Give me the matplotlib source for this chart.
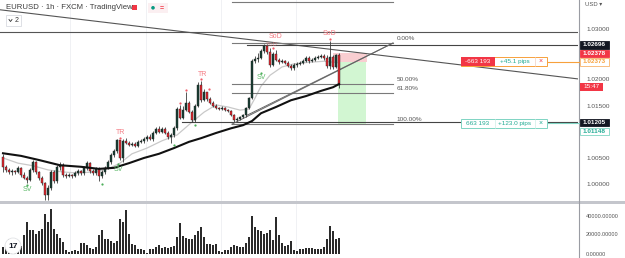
import matplotlib.pyplot as plt
from matplotlib.patches import Rectangle, Circle

plt.rcParams['font.family'] = ['Liberation Sans', 'DejaVu Sans']

# ==========================================
# Datos: velas EURUSD 1h (FXCM)
# ==========================================
opens = [1.0054, 1.0035, 1.0029, 1.0025, 1.0027, 1.0025, 1.0033, 1.0019, 1.0013, 1.0010,
         1.0029, 1.0044, 1.0025, 1.0013, 1.0004, 0.9981, 0.9994, 1.0025, 1.0008, 1.0035,
         1.0038, 1.0019, 1.0017, 1.0019, 1.0017, 1.0023, 1.0027, 1.0023, 1.0033, 1.0042,
         1.0027, 1.0023, 1.0031, 1.0017, 1.0025, 1.0033, 1.0044, 1.0058, 1.0065, 1.0087,
         1.0052, 1.0085, 1.0081, 1.0077, 1.0079, 1.0075, 1.0083, 1.0085, 1.0088, 1.0092,
         1.0088, 1.0100, 1.0108, 1.0102, 1.0108, 1.0100, 1.0092, 1.0096, 1.0109, 1.0146,
         1.0129, 1.0144, 1.0158, 1.0140, 1.0125, 1.0152, 1.0192, 1.0163, 1.0179, 1.0165,
         1.0158, 1.0152, 1.0148, 1.0146, 1.0148, 1.0144, 1.0142, 1.0134, 1.0125, 1.0127,
         1.0131, 1.0134, 1.0148, 1.0167, 1.0238, 1.0242, 1.0244, 1.0258, 1.0267, 1.0256,
         1.0231, 1.0252, 1.0240, 1.0236, 1.0238, 1.0235, 1.0229, 1.0225, 1.0231, 1.0233,
         1.0235, 1.0238, 1.0244, 1.0238, 1.0240, 1.0244, 1.0246, 1.0248, 1.0244, 1.0229,
         1.0246, 1.0227, 1.0250]
highs = [1.0060, 1.0038, 1.0033, 1.0031, 1.0029, 1.0037, 1.0035, 1.0025, 1.0017, 1.0033,
         1.0048, 1.0046, 1.0027, 1.0017, 1.0006, 1.0000, 1.0029, 1.0029, 1.0038, 1.0044,
         1.0042, 1.0023, 1.0023, 1.0021, 1.0027, 1.0031, 1.0029, 1.0037, 1.0046, 1.0044,
         1.0031, 1.0035, 1.0035, 1.0029, 1.0037, 1.0048, 1.0062, 1.0069, 1.0088, 1.0087,
         1.0088, 1.0090, 1.0085, 1.0083, 1.0083, 1.0087, 1.0088, 1.0092, 1.0096, 1.0098,
         1.0104, 1.0111, 1.0113, 1.0111, 1.0111, 1.0104, 1.0100, 1.0113, 1.0150, 1.0154,
         1.0152, 1.0179, 1.0161, 1.0144, 1.0156, 1.0198, 1.0200, 1.0184, 1.0179, 1.0169,
         1.0161, 1.0156, 1.0150, 1.0152, 1.0150, 1.0146, 1.0144, 1.0136, 1.0131, 1.0132,
         1.0136, 1.0150, 1.0169, 1.0242, 1.0248, 1.0254, 1.0261, 1.0271, 1.0271, 1.0263,
         1.0256, 1.0260, 1.0244, 1.0242, 1.0240, 1.0238, 1.0233, 1.0235, 1.0236, 1.0238,
         1.0242, 1.0248, 1.0248, 1.0244, 1.0248, 1.0250, 1.0252, 1.0252, 1.0250, 1.0277,
         1.0250, 1.0252, 1.0254]
lows = [1.0025, 1.0025, 1.0021, 1.0019, 1.0021, 1.0023, 1.0015, 1.0012, 1.0004, 1.0008,
        1.0025, 1.0021, 1.0010, 1.0000, 0.9971, 0.9971, 0.9990, 1.0004, 1.0004, 1.0029,
        1.0015, 1.0013, 1.0015, 1.0013, 1.0015, 1.0019, 1.0019, 1.0019, 1.0029, 1.0023,
        1.0019, 1.0019, 1.0008, 1.0013, 1.0021, 1.0031, 1.0040, 1.0054, 1.0062, 1.0048,
        1.0044, 1.0079, 1.0075, 1.0075, 1.0073, 1.0073, 1.0081, 1.0081, 1.0085, 1.0087,
        1.0085, 1.0098, 1.0100, 1.0100, 1.0098, 1.0088, 1.0081, 1.0092, 1.0106, 1.0127,
        1.0127, 1.0142, 1.0138, 1.0121, 1.0121, 1.0150, 1.0159, 1.0161, 1.0161, 1.0156,
        1.0150, 1.0146, 1.0144, 1.0144, 1.0142, 1.0140, 1.0132, 1.0121, 1.0123, 1.0125,
        1.0129, 1.0131, 1.0146, 1.0165, 1.0235, 1.0236, 1.0242, 1.0254, 1.0252, 1.0227,
        1.0229, 1.0238, 1.0233, 1.0235, 1.0233, 1.0227, 1.0221, 1.0221, 1.0227, 1.0231,
        1.0233, 1.0236, 1.0235, 1.0236, 1.0238, 1.0242, 1.0244, 1.0240, 1.0225, 1.0223,
        1.0223, 1.0225, 1.0186]
closes = [1.0035, 1.0029, 1.0025, 1.0027, 1.0025, 1.0033, 1.0019, 1.0013, 1.0010, 1.0029,
          1.0044, 1.0025, 1.0013, 1.0004, 0.9981, 0.9994, 1.0025, 1.0008, 1.0035, 1.0038,
          1.0019, 1.0017, 1.0019, 1.0017, 1.0023, 1.0027, 1.0023, 1.0033, 1.0042, 1.0027,
          1.0023, 1.0031, 1.0017, 1.0025, 1.0033, 1.0044, 1.0058, 1.0065, 1.0087, 1.0052,
          1.0085, 1.0081, 1.0077, 1.0079, 1.0075, 1.0083, 1.0085, 1.0088, 1.0092, 1.0088,
          1.0100, 1.0108, 1.0102, 1.0108, 1.0100, 1.0092, 1.0096, 1.0109, 1.0146, 1.0129,
          1.0144, 1.0158, 1.0140, 1.0125, 1.0152, 1.0192, 1.0163, 1.0179, 1.0165, 1.0158,
          1.0152, 1.0148, 1.0146, 1.0148, 1.0144, 1.0142, 1.0134, 1.0125, 1.0127, 1.0131,
          1.0134, 1.0148, 1.0167, 1.0238, 1.0242, 1.0244, 1.0258, 1.0267, 1.0256, 1.0231,
          1.0252, 1.0240, 1.0236, 1.0238, 1.0235, 1.0229, 1.0225, 1.0231, 1.0233, 1.0235,
          1.0238, 1.0244, 1.0238, 1.0240, 1.0244, 1.0246, 1.0248, 1.0244, 1.0229, 1.0246,
          1.0227, 1.0250, 1.0192]
volumes = [7400, 9000, 16000, 6000, 8000, 12000, 8000, 19600, 33700, 25000,
           25000, 21400, 24000, 26700, 41800, 33700, 47000, 26700, 20700, 16800,
           12600, 3900, 2100, 2800, 3900, 3200, 11900, 11900, 9100, 6300,
           4900, 7400, 20400, 25300, 16100, 16100, 13300, 12000, 14000, 36500,
           33700, 46000, 21400, 10900, 10000, 5600, 5600, 3900, 1400, 4900,
           5600, 7400, 9100, 6600, 7400, 6600, 7400, 8000, 17900, 33000,
           18600, 16800, 15400, 15400, 20400, 24200, 28400, 17900, 10900, 10900,
           9800, 10900, 2800, 2100, 3900, 4600, 7400, 9100, 8100, 7400,
           7400, 11600, 17900, 40000, 28400, 25000, 23900, 21400, 22100, 25000,
           15000, 39000, 19600, 11600, 8400, 9100, 13300, 3900, 2800, 4900,
           5600, 6300, 6600, 6300, 5000, 4900, 5600, 7400, 16100, 29100,
           24200, 16100, 17200]

# medias moviles (lenta negra, rapida gris)
ma_slow_bars = [0, 6, 12, 19, 26, 32, 37, 42, 47, 52, 57, 62, 66, 71, 76, 80, 83, 86, 91, 96, 101, 106, 110, 112]
ma_slow = [1.0061, 1.0056, 1.0048, 1.0038, 1.0035, 1.0031, 1.0033, 1.0042, 1.0052, 1.0060, 1.0071, 1.0083,
           1.0090, 1.0100, 1.0109, 1.0115, 1.0123, 1.0138, 1.0150, 1.0163, 1.0171, 1.0181, 1.0188, 1.0194]
ma_fast_bars = [0, 5, 10, 15, 20, 25, 30, 35, 39, 43, 48, 53, 58, 63, 67, 71, 75, 79, 82, 84, 86, 89, 93, 97, 102, 107, 112]
ma_fast = [1.0052, 1.0042, 1.0037, 1.0029, 1.0025, 1.0023, 1.0025, 1.0031, 1.0042, 1.0060, 1.0071, 1.0085, 1.0096,
           1.0121, 1.0140, 1.0154, 1.0150, 1.0144, 1.0146, 1.0167, 1.0190, 1.0211, 1.0227, 1.0233, 1.0236, 1.0238, 1.0235]

# marcas de la estrategia
tr_dots = [(39, 1.0091), (59, 1.0158), (61, 1.0183), (66, 1.0204), (68.7, 1.0185), (90, 1.0263), (109, 1.0281)]
sv_dots = [(8, 1.0000), (33, 1.0002), (38.5, 1.0040), (57, 1.0077), (64, 1.0115), (86, 1.0215)]
tr_labels = [(39.3, 1.0100, "TR"), (66.5, 1.0213, "TR")]
sod_labels = [(90.7, 1.0285, "SoD"), (109, 1.0291, "SoD")]
sod_shadow = (89.5, 1.0270, "SoD")
sv_labels = [(8, 0.9991, "SV"), (38.5, 1.0029, "SV"), (86, 1.0206, "SV")]

price_ticks = [1.00000, 1.00500, 1.01500, 1.02000, 1.03000]
vol_ticks = [0, 20000, 40000]

# dibujos
fib_low, fib_high = 1.0117, 1.0273
fib_levels = [-0.5, 0.0, 0.5, 0.618, 1.0]
fib_names = ["", "0.00%", "50.00%", "61.80%", "100.00%"]
fib_start, fib_end = 76.3, 130.0
trend_down = ([-1, 191.7], [1.0337, 1.0204])
trend_up2 = ([81.3, 130.0], [1.0134, 1.0273])
level_top = 1.0294
ray_high, ray_high_start = 1.02696, 81.3
ray_low, ray_low_start = 1.01205, 59.7
entry, stop, target = 1.02373, 1.02539, 1.01148
pos_bars = (110, 121.3)

# ==========================================
# Figura
# ==========================================
W, H = 625, 258
P_TOP, P_BOT = 1.03558, 0.99692
fig = plt.figure(figsize=(W / 100, H / 100), dpi=100)
ax = fig.add_axes([0, 1 - 201 / H, 578 / W, 201 / H])
axv = fig.add_axes([0, 0, 578 / W, 54 / H])
ui = fig.add_axes([0, 0, 1, 1], zorder=10)
ui.set_xlim(0, W)
ui.set_ylim(H, 0)
ui.axis('off')
ui.patch.set_alpha(0)

def py(p):
    return (P_TOP - p) / (P_TOP - P_BOT) * 201

for a in (ax, axv):
    a.set_xlim(-1, 191.67)
    a.axis('off')
    for gx in (22.3, 47.7, 72.7, 97.7):
        a.axvline(gx, color="#f0f1f4", lw=0.7, zorder=0)
ax.set_ylim(P_BOT, P_TOP)
axv.set_ylim(-4200, 52600)

# velas
up_c, dn_c = "#173f33", "#e8262e"
for i in range(len(closes)):
    o, h, l, c = opens[i], highs[i], lows[i], closes[i]
    col = up_c if c >= o else dn_c
    ax.vlines(i, l, h, color="#3a3a3a", lw=0.6, zorder=3)
    ax.bar(i, max(abs(c - o), 0.00006), bottom=min(o, c), width=0.72,
           color=col, edgecolor="#222222", lw=0.3, zorder=4)

ax.plot(ma_fast_bars, ma_fast, color="#c9c9c9", lw=0.9, zorder=2)
ax.plot(ma_slow_bars, ma_slow, color="#111111", lw=1.5, zorder=5)

# volumen
axv.bar(range(len(volumes)), volumes, width=0.55, color="#2b2b2b", zorder=3)

# lineas dibujadas
ax.plot(*trend_down, color="#555555", lw=0.8, zorder=2)
ax.axhline(level_top, color="#555555", lw=0.8, zorder=2)
ax.plot([ray_high_start, 191.7], [ray_high, ray_high], color="#444444", lw=0.8, zorder=2)
ax.plot([ray_low_start, 191.7], [ray_low, ray_low], color="#444444", lw=0.8, zorder=2)
rng = fib_high - fib_low
for lv, name in zip(fib_levels, fib_names):
    p = fib_high - lv * rng
    ax.plot([fib_start, fib_end], [p, p], color="#7a7a7a", lw=0.8, zorder=2)
    if name:
        ax.text(fib_end + 1.3, p + 0.00035, name, fontsize=4.6, color="#555555",
                va="bottom", ha="left")
ax.plot([fib_start, fib_end], [fib_low, fib_high], color="#666666", lw=0.7, zorder=2)
ax.plot(*trend_up2, color="#666666", lw=0.7, zorder=2)

# herramienta de posicion corta
ax.add_patch(Rectangle((pos_bars[0], entry), pos_bars[1] - pos_bars[0], stop - entry,
                       color="#f9c9cc", alpha=0.9, zorder=1, lw=0))
ax.add_patch(Rectangle((pos_bars[0] + 1.7, target), pos_bars[1] - pos_bars[0] - 2, entry - target,
                       color="#cdf5cd", alpha=0.9, zorder=1, lw=0))

# marcas
for b, p in tr_dots:
    ax.plot(b, p, "o", ms=1.6, color="#f05a66", mec="none", zorder=6)
for b, p in sv_dots:
    ax.plot(b, p, "o", ms=1.6, color="#4cae5a", mec="none", zorder=6)
for b, p, t in tr_labels + sod_labels:
    ax.text(b, p, t, fontsize=5, color="#f47c84", ha="center", va="center", zorder=6)
ax.text(sod_shadow[0], sod_shadow[1], sod_shadow[2], fontsize=4.4, color="#f47c84",
        ha="center", va="center", alpha=0.55, zorder=6)
for b, p, t in sv_labels:
    ax.text(b, p, t, fontsize=5, color="#5cb868", ha="center", va="center", zorder=6)

# ==========================================
# Interfaz (escala de precios, etiquetas)
# ==========================================
ui.add_patch(Rectangle((0, 200.5), W, 3, color="#c4c6cc", lw=0))
ui.plot([578.5, 578.5], [0, H], color="#9a9ca3", lw=0.8)

for p in price_ticks:
    yy = py(p) - (1.5 if p == 1.02 else 0)
    ui.text(586, yy, f"{p:.5f}", fontsize=4.6, color="#555", va="center")
ui.text(585, 5, "USD ▾", fontsize=4.2, color="#555", va="center")

def axis_label(yc, txt, fc, tc, ec=None, x1=609):
    ui.add_patch(Rectangle((580, yc - 3.7), x1 - 580, 7.4, fc=fc, ec=ec or fc, lw=0.6, zorder=11))
    ui.text((580 + x1) / 2, yc, txt, fontsize=4.6, color=tc, ha="center", va="center",
            fontweight="bold", zorder=12)

axis_label(py(ray_high), "1.02696", "#131722", "white")
axis_label(53.3, "1.02378", "#f23645", "white")
axis_label(61.9, "1.02373", "white", "#f7a13c", "#f7b36b")
ui.add_patch(Rectangle((580, 83.3), 23, 7.2, fc="#f23645", lw=0, zorder=11))
ui.text(591.5, 86.9, "15:47", fontsize=4.6, color="white", ha="center", va="center", zorder=12)
axis_label(py(ray_low), "1.01205", "#131722", "white")
axis_label(131.3, "1.01148", "white", "#22ab94", "#7fd4c3")

# etiquetas de ordenes
y1 = py(entry)
ui.plot([547, 579], [y1, y1], color="#f7a13c", lw=0.8)
ui.add_patch(Rectangle((461, y1 - 4.5), 86, 9, fc="white", ec="#f7a13c", lw=0.7, zorder=11))
ui.add_patch(Rectangle((461, y1 - 4.5), 34, 9, fc="#f23645", lw=0, zorder=11))
ui.text(478, y1, "-663 193", fontsize=4.6, color="white", ha="center", va="center", zorder=12)
ui.text(515, y1, "+45.1 pips", fontsize=4.6, color="#22ab94", ha="center", va="center", zorder=12)
ui.plot([535, 535], [y1 - 4.5, y1 + 4.5], color="#f3d0c0", lw=0.5, zorder=12)
ui.text(541, y1, "×", fontsize=5, color="#f23645", ha="center", va="center", zorder=12)

y2 = py(ray_low) + 1
ui.plot([547, 579], [y2, y2], color="#7fd4c3", lw=0.8)
ui.add_patch(Rectangle((461, y2 - 4.5), 86, 9, fc="white", ec="#7fd4c3", lw=0.7, zorder=11))
ui.plot([495, 495], [y2 - 4.5, y2 + 4.5], color="#cdeee7", lw=0.5, zorder=12)
ui.plot([535, 535], [y2 - 4.5, y2 + 4.5], color="#cdeee7", lw=0.5, zorder=12)
ui.text(478, y2, "663 193", fontsize=4.6, color="#22ab94", ha="center", va="center", zorder=12)
ui.text(515, y2, "+123.0 pips", fontsize=4.6, color="#22ab94", ha="center", va="center", zorder=12)
ui.text(541, y2, "×", fontsize=5, color="#22ab94", ha="center", va="center", zorder=12)

# volumen: escala
for v, yy in zip(vol_ticks, (254, 235, 216)):
    ui.text(586, yy, f"{v:.5f}", fontsize=4.0, color="#555", va="center")

# cabecera
ui.text(6, 7.5, "EURUSD · 1h · FXCM · TradingView", fontsize=5.6, color="#3c3c3c", va="center")
ui.add_patch(Rectangle((132, 4.5), 5, 5.5, fc="#f23645", lw=0))
ui.add_patch(Rectangle((147.5, 3), 20, 10, fc="#fbeff1", lw=0))
ui.add_patch(Circle((153, 7.8), 1.8, fc="#089981", lw=0))
ui.text(162, 7.8, "=", fontsize=5, color="#f23645", ha="center", va="center", fontweight="bold")
ui.add_patch(Rectangle((6, 15), 15, 11, fc="white", ec="#d8dae0", lw=0.6))
ui.plot([9, 10.5, 12], [19.5, 21.5, 19.5], color="#333", lw=0.6)
ui.text(17, 20.5, "2", fontsize=5, color="#333", ha="center", va="center")

# logo
ui.add_patch(Circle((13, 246), 8, fc="white", ec="#e2e3e6", lw=0.6, zorder=11))
ui.text(13, 246.5, "17", fontsize=6, color="#131722", ha="center", va="center",
        fontweight="bold", zorder=12)

fig.savefig("out.png", dpi=100)
